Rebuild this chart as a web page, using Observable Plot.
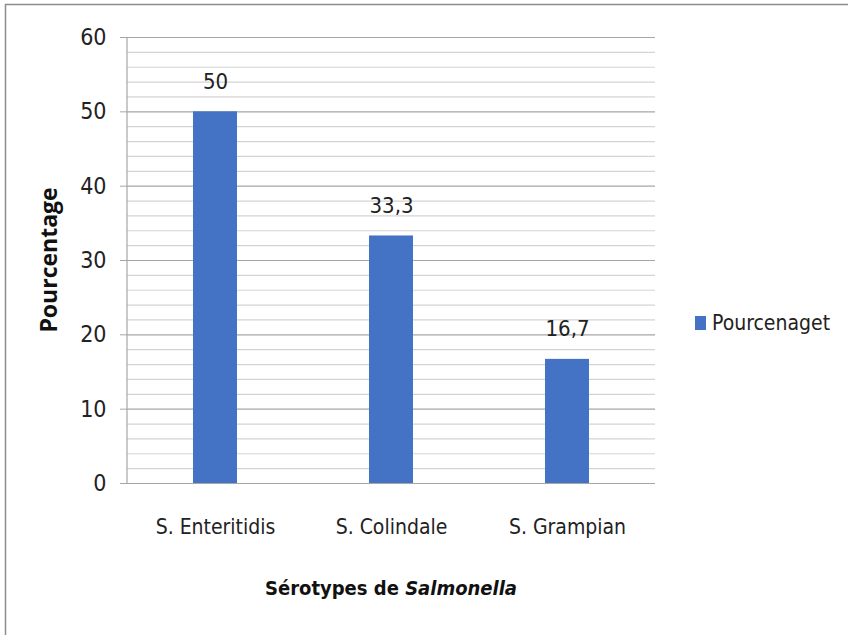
<!DOCTYPE html>
<html>
<head>
<meta charset="utf-8">
<script src="https://cdn.jsdelivr.net/npm/d3@7"></script>
<script src="https://cdn.jsdelivr.net/npm/@observablehq/plot@0.6"></script>
<style>
  html, body { margin: 0; padding: 0; background: #fff; }
  #chart { position: relative; width: 848px; height: 635px; overflow: hidden; }
</style>
</head>
<body>
<div id="chart"></div>
<script>
const categories = ["S. Enteritidis", "S. Colindale", "S. Grampian"];
const values = [50, 33.3, 16.7];
const valueLabels = ["50", "33,3", "16,7"];
const yTicks = [0, 10, 20, 30, 40, 50, 60];
const minorTicks = [2, 4, 6, 8, 12, 14, 16, 18, 22, 24, 26, 28, 32, 34, 36, 38, 42, 44, 46, 48, 52, 54, 56, 58];
const seriesName = "Pourcenaget";
const yTitle = "Pourcentage";
const xTitlePlain = "Sérotypes de ";
const xTitleItalic = "Salmonella";

const data = categories.map((c, i) => ({cat: c, v: values[i], label: valueLabels[i]}));
const barColor = "#4472c4";
const fontStack = '"DejaVu Sans Condensed", "Liberation Sans Narrow", "Liberation Sans", sans-serif';

const chart = Plot.plot({
  width: 848,
  height: 635,
  marginLeft: 127,
  marginRight: 193,
  marginTop: 37,
  marginBottom: 152,
  style: {fontFamily: fontStack, fontSize: "20px", color: "#222", background: "#fff"},
  x: {domain: categories, paddingInner: 0.75, paddingOuter: 0.375, label: null},
  y: {domain: [0, 60], label: null},
  marks: [
    Plot.ruleY(minorTicks, {stroke: "#d4d4d4", strokeWidth: 1.2}),
    Plot.ruleY(yTicks, {stroke: "#a6a6a6", strokeWidth: 1.2}),
    Plot.barY(data, {x: "cat", y: "v", fill: barColor}),
    Plot.text(data, {x: "cat", y: "v", text: "label", dy: -30, fill: "#222", fontSize: 22}),
    Plot.axisY({ticks: yTicks, tickSize: 7, tickPadding: 14, stroke: "#a6a6a6", fontSize: 23, fill: "#222", label: null}),
    Plot.axisX({tickSize: 0, tickPadding: 36, fontSize: 21, fill: "#222", label: null})
  ]
});

document.getElementById("chart").appendChild(chart);

const svg = d3.select(chart);
const x = chart.scale("x");
const y = chart.scale("y");

// vertical axis line
svg.append("line")
  .attr("x1", 127).attr("x2", 127)
  .attr("y1", y.apply(60)).attr("y2", y.apply(0))
  .attr("stroke", "#a6a6a6").attr("stroke-width", 1.2);

// outer frame
svg.append("rect")
  .attr("x", 5.5).attr("y", 4.5).attr("width", 860).attr("height", 660)
  .attr("fill", "none").attr("stroke", "#8c8c8c").attr("stroke-width", 1.5);

// y title
svg.append("text")
  .attr("transform", `translate(57,${(y.apply(60) + y.apply(0)) / 2}) rotate(-90)`)
  .attr("text-anchor", "middle")
  .attr("font-family", '"Open Sans", "DejaVu Sans", sans-serif')
  .attr("font-weight", "bold").attr("font-size", 23).attr("fill", "#111")
  .text(yTitle);

// x title
const xc = (x.apply(categories[0]) + x.apply(categories[2]) + x.bandwidth) / 2;
const xt = svg.append("text")
  .attr("x", xc).attr("y", 595)
  .attr("text-anchor", "middle")
  .attr("font-family", fontStack)
  .attr("font-weight", "bold").attr("font-size", 20).attr("fill", "#111");
xt.append("tspan").text(xTitlePlain);
xt.append("tspan").attr("font-style", "italic").text(xTitleItalic);

// legend
const lg = svg.append("g").attr("transform", "translate(695,323)");
lg.append("rect").attr("x", 0).attr("y", -7).attr("width", 11).attr("height", 14).attr("fill", barColor);
lg.append("text").attr("x", 17).attr("y", 0).attr("dy", "0.35em")
  .attr("text-anchor", "start")
  .attr("font-family", fontStack).attr("font-size", 21).attr("fill", "#222").text(seriesName);
</script>
</body>
</html>
